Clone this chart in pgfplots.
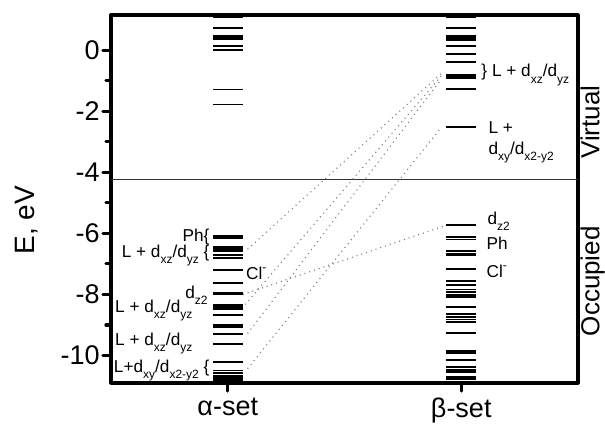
\documentclass[border=0pt]{standalone}
\usepackage{fontspec}
\setmainfont{Liberation Sans}
\usepackage{pgfplots}
\pgfplotsset{compat=1.18}
\usetikzlibrary{calc}

\newcommand{\sub}[1]{\raisebox{-3.2pt}{\fontsize{6}{6}\selectfont #1}}
\newcommand{\ann}{\fontsize{8.6}{10}\selectfont}

\begin{document}
\begin{tikzpicture}
\begin{axis}[
  scale only axis,
  width=233.5pt, height=184pt,
  xmin=0.5, xmax=2.5,
  ymin=-10.9, ymax=1.15,
  clip=false,
  axis line style={line width=1.6pt, line join=round},
  tick pos=left,
  tick align=outside,
  major tick length=4pt,
  minor tick length=2.5pt,
  every tick/.style={line width=1.6pt, line cap=round, black},
  xtick={1,2},
  xticklabels={α-set, β-set},
  ytick={-10,-8,...,0},
  minor y tick num=1,
  /pgf/number format/assume math mode=true,
  ticklabel style={font=\fontsize{13.5}{15}\selectfont},
  yticklabel style={inner xsep=1.5pt},
  ylabel={E, eV},
  ylabel style={at={(axis description cs:-0.18,0.443)}, anchor=center, font=\fontsize{14}{16}\selectfont},
]
% separator between occupied and virtual levels
\addplot[line width=0.5pt, black!80] coordinates {(0.5,-4.23) (2.5,-4.23)};

% alpha-set levels
\addplot[only marks, mark=-, mark size=7.5pt, mark options={line width=0.95pt}] coordinates {
  (1,1.12) (1,1.08) (1,0.71) (1,0.46) (1,0.40) (1,0.35) (1,0.14) (1,-0.01) (1,-1.29) (1,-1.78)
  (1,-6.09) (1,-6.14) (1,-6.45) (1,-6.51) (1,-6.58) (1,-6.71) (1,-6.80) (1,-7.21) (1,-7.62)
  (1,-7.95) (1,-8.00) (1,-8.36) (1,-8.42) (1,-8.47) (1,-8.67) (1,-8.99) (1,-9.03) (1,-9.07)
  (1,-9.29) (1,-9.62) (1,-10.20) (1,-10.49) (1,-10.58) (1,-10.66) (1,-10.73) (1,-10.80) (1,-10.86)
};
% beta-set levels
\addplot[only marks, mark=-, mark size=7.5pt, mark options={line width=0.95pt}] coordinates {
  (2,1.12) (2,1.08) (2,0.71) (2,0.47) (2,0.40) (2,0.34) (2,0.14) (2,-0.14) (2,-0.40)
  (2,-0.82) (2,-0.86) (2,-0.91) (2,-1.26) (2,-2.53)
  (2,-5.74) (2,-6.12) (2,-6.20) (2,-6.59) (2,-6.66) (2,-6.72) (2,-7.16) (2,-7.57) (2,-7.68)
  (2,-7.84) (2,-7.92) (2,-8.01) (2,-8.07) (2,-8.42) (2,-8.63) (2,-8.74) (2,-8.82) (2,-8.91)
  (2,-9.26) (2,-9.84) (2,-9.91) (2,-10.14) (2,-10.38) (2,-10.46) (2,-10.55) (2,-10.70)
  (2,-10.78) (2,-10.85)
};

% correlation lines
\pgfplotsset{corr/.style={gray, line width=0.6pt, dash pattern=on 0.5pt off 2pt}}
\addplot[corr] coordinates {(1.085,-6.52) (1.915,-0.76)};
\addplot[corr] coordinates {(1.075,-8.33) (1.915,-0.84)};
\addplot[corr] coordinates {(1.085,-9.28) (1.915,-0.95)};
\addplot[corr] coordinates {(1.085,-10.43) (1.915,-2.53)};
\addplot[corr] coordinates {(1.065,-8.00) (1.935,-5.74)};

% alpha labels
\node[anchor=base east, font=\ann, inner sep=0pt] at (axis cs:0.923,-6.26) {Ph\{};
\node[anchor=base east, font=\ann, inner sep=0pt] at (axis cs:0.923,-6.78) {L + d\sub{xz}/d\sub{yz} \{};
\node[anchor=base east, font=\ann, inner sep=0pt] at (axis cs:0.915,-8.13) {d\sub{z2}};
\node[anchor=base east, font=\ann, inner sep=0pt] at (axis cs:0.85,-8.58) {L + d\sub{xz}/d\sub{yz}};
\node[anchor=base east, font=\ann, inner sep=0pt] at (axis cs:0.85,-9.67) {L + d\sub{xz}/d\sub{yz}};
\node[anchor=base east, font=\ann, inner sep=0pt] at (axis cs:0.923,-10.55) {L+d\sub{xy}/d\sub{x2-y2} \{};
\node[anchor=base west, font=\ann, inner sep=0pt] at (axis cs:1.077,-7.51) {Cl\textsuperscript{-}};

% beta labels
\node[anchor=base west, font=\ann, inner sep=0pt] at (axis cs:2.085,-0.87) {\} L + d\sub{xz}/d\sub{yz}};
\node[anchor=base west, font=\ann, inner sep=0pt] at (axis cs:2.115,-2.73) {L +};
\node[anchor=base west, font=\ann, inner sep=0pt] at (axis cs:2.115,-3.41) {d\sub{xy}/d\sub{x2-y2}};
\node[anchor=base west, font=\ann, inner sep=0pt] at (axis cs:2.111,-5.70) {d\sub{z2}};
\node[anchor=base west, font=\ann, inner sep=0pt] at (axis cs:2.107,-6.53) {Ph};
\node[anchor=base west, font=\ann, inner sep=0pt] at (axis cs:2.107,-7.45) {Cl\textsuperscript{-}};

% side labels
\node[rotate=90, anchor=base, font=\fontsize{13}{15}\selectfont, inner sep=0pt] at (axis cs:2.592,-2.36) {Virtual};
\node[rotate=90, anchor=base, font=\fontsize{13}{15}\selectfont, inner sep=0pt] at (axis cs:2.592,-7.57) {Occupied};

\coordinate (bl) at (rel axis cs:0,0);
\coordinate (tr) at (rel axis cs:1,1);
\end{axis}
\pgfresetboundingbox
\path ($(bl)+(-55.5pt,-22pt)$) rectangle ($(tr)+(13.5pt,7.5pt)$);
\end{tikzpicture}
\end{document}
